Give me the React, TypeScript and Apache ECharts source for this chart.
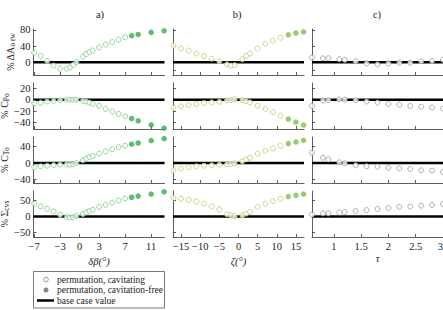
import { useEffect, useRef } from "react";
import * as echarts from "echarts";

// Column a: blade angle offset δβ (°)
const beta = [-7, -6, -5, -4, -3, -2, -1.5, -1, -0.5, 0.5, 1, 1.5, 2, 3, 4, 5, 6, 7, 8, 9, 11, 13];
const betaFreeFrom = 18; // points from this index on are cavitation-free
const dArwBeta = [24, 16, 3, -8, -16, -15, -12.5, -6, 0.5, 14, 20.5, 25, 29, 37, 44, 50, 56, 62, 66, 69, 74, 78];
const cpBeta = [-6, -5, -3, -2, -1, 0, 0, 0, 0, -2, -3, -5, -7, -10.5, -16, -20.5, -25, -29, -33, -37, -44, -50];
const ctBeta = [-11, -8, -6.5, -5, -3.5, -3.5, -4, -2.5, 0, 6.5, 10.5, 14.5, 17, 23, 28.5, 33.5, 39, 42.5, 46, 49, 55, 60];
const sigmaBeta = [40, 32, 24, 16, 5, -2, -3, -2, 2, 7.5, 12.5, 17, 21, 30, 36, 43.5, 50, 56, 60, 63.5, 70, 77];

// Column b: skew angle ζ (°)
const zeta = [-17, -15, -13, -11, -9, -7, -5, -3, -2, -1, 1, 2, 3, 5, 7, 9, 11, 13, 15, 17];
const zetaFreeFrom = 17;
const dArwZeta = [41, 34.5, 29, 22, 15.5, 9, 2.5, -5, -8, -7, 7.5, 16, 22, 34, 46, 53.5, 61, 68, 72.5, 75.5];
const cpZeta = [-14.5, -11.7, -9.4, -7.6, -5.8, -4.7, -3.5, -1.2, -0.6, 0.6, -0.6, -2.3, -4.7, -10.5, -16.4, -22, -28, -34, -39.5, -44.5];
const ctZeta = [-18, -14, -10.5, -8, -6.5, -5.5, -4, -3, -2.4, -0.8, 4, 9, 13, 23, 30, 36, 42.5, 47.5, 51.5, 55.5];
const sigmaZeta = [58, 55, 52, 47, 40, 32, 22, 7, 4, 1, 3, 9, 14, 30, 40, 48, 55, 62, 66, 70];

// Column c: τ
const tau = [0.6, 0.8, 0.9, 1.1, 1.2, 1.4, 1.6, 1.8, 2.0, 2.2, 2.4, 2.6, 2.8, 3.0];
const tauFreeFrom = tau.length;
const dArwTau = [12, 10, 10, 7.5, 6, 2.5, -2.5, -5, -2.5, -1, -1, 2.5, 3, 6];
const cpTau = [-11, -1.5, -1, 0.5, 0, -1, -3, -5, -7.3, -9, -11, -12.3, -13.8, -15.5];
const ctTau = [25, 13, 9, 1.7, -0.8, -5.6, -8, -9, -11.3, -13, -14.6, -18, -18.6, -22];
const sigmaTau = [6, 10, 10, 12.5, 14, 17, 20, 23.5, 26.5, 30, 31.5, 34, 36, 39];

// Axis ticks
const betaTicks = [-7, -3, 0, 3, 7, 11];
const zetaTicks = [-15, -10, -5, 0, 5, 10, 15];
const tauTicks = [1, 1.5, 2, 2.5, 3];
const rowTicks = [
  [-20, 0, 40, 80],
  [-40, -20, 0, 20],
  [-40, 0, 40],
  [-50, 0, 50],
];
const rowRanges = [
  [-31.4, 82.4],
  [-51.4, 29.3],
  [-49, 63.7],
  [-63.5, 79.4],
];
const rowNames = [
  "{m|% ΔA}{s|o rw}",
  "{m|% C}{s|Po}",
  "{m|% C}{s|To}",
  "{m|% Σ}{s|cvs}",
];
const panelTitles = ["a)", "b)", "c)"];
const xNames = ["δβ(°)", "ζ(°)", "τ"];
const legendLabels = ["permutation, cavitating", "permutation, cavitation-free", "base case value"];

const FONT = "Liberation Serif";

const columns = [
  {
    x: beta, freeFrom: betaFreeFrom, rows: [dArwBeta, cpBeta, ctBeta, sigmaBeta],
    range: [-7.1, 13.05], ticks: betaTicks, left: 33.5, width: 131,
    open: "#78cc84", fill: "#34ad4e", nameGap: 19, alignMax: undefined as any,
  },
  {
    x: zeta, freeFrom: zetaFreeFrom, rows: [dArwZeta, cpZeta, ctZeta, sigmaZeta],
    range: [-17.1, 17.1], ticks: zetaTicks, left: 173, width: 131,
    open: "#c3c86c", fill: "#7ec043", nameGap: 19, alignMax: undefined as any,
  },
  {
    x: tau, freeFrom: tauFreeFrom, rows: [dArwTau, cpTau, ctTau, sigmaTau],
    range: [0.6, 3.0], ticks: tauTicks, left: 312, width: 131,
    open: "#9999a6", fill: "#777784", nameGap: 13, alignMax: "right",
  },
];
const rowTops = [29, 83, 137, 191];
const rowHeight = 46;

const fmt = (v: number) => (v < 0 ? "\u2212" + Math.abs(v) : String(v));

function buildOption() {
  const grid: any[] = [];
  const xAxis: any[] = [];
  const yAxis: any[] = [];
  const series: any[] = [];
  const axisLine = { show: true, onZero: false, lineStyle: { color: "#333", width: 0.8 } };
  const tickLine = { color: "#333", width: 0.8 };

  rowTops.forEach((top, r) => {
    columns.forEach((col, c) => {
      const i = grid.length;
      grid.push({ left: col.left, top, width: col.width, height: rowHeight, outerBoundsMode: "none" });
      xAxis.push({
        gridIndex: i, type: "value", min: col.range[0], max: col.range[1], position: "bottom",
        axisLine, splitLine: { show: false },
        axisTick: { show: true, inside: true, length: 3, customValues: col.ticks, lineStyle: tickLine },
        axisLabel: {
          show: r === 3, customValues: col.ticks, formatter: fmt, margin: 4,
          fontFamily: FONT, fontSize: 10.5, color: "#222", alignMaxLabel: col.alignMax,
        },
        name: r === 3 ? xNames[c] : "", nameLocation: "middle", nameGap: col.nameGap,
        nameTextStyle: { fontFamily: FONT, fontSize: 10.5, color: "#222", fontStyle: "italic" },
      });
      yAxis.push({
        gridIndex: i, type: "value", min: rowRanges[r][0], max: rowRanges[r][1], position: "left",
        axisLine, splitLine: { show: false },
        axisTick: { show: true, inside: true, length: 3, customValues: rowTicks[r], lineStyle: tickLine },
        axisLabel: {
          show: c === 0, customValues: rowTicks[r], formatter: fmt, margin: 3,
          fontFamily: FONT, fontSize: 10.5, color: "#222",
        },
        name: c === 0 ? rowNames[r] : "", nameLocation: "middle", nameRotate: 90, nameGap: 16,
        nameTextStyle: {
          fontFamily: FONT, color: "#222",
          rich: {
            m: { fontFamily: FONT, fontSize: 10, color: "#222" },
            s: { fontFamily: FONT, fontSize: 7.5, color: "#222", padding: [4, 0, 0, 0] },
          },
        },
      });
      // base case reference line at 0 %
      series.push({
        type: "line", xAxisIndex: i, yAxisIndex: i, silent: true, z: 1,
        data: [[col.range[0], 0], [col.range[1], 0]],
        symbol: "none", lineStyle: { color: "#000", width: 2.5 },
      });
      const vals = col.rows[r];
      series.push({
        type: "scatter", xAxisIndex: i, yAxisIndex: i, z: 3, clip: false, silent: true,
        symbol: "circle", symbolSize: 5,
        itemStyle: { color: "#fff", borderColor: col.open, borderWidth: 1 },
        data: col.x.slice(0, col.freeFrom).map((v, k) => [v, vals[k]]),
      });
      if (col.freeFrom < col.x.length) {
        series.push({
          type: "scatter", xAxisIndex: i, yAxisIndex: i, z: 3, clip: false, silent: true,
          symbol: "circle", symbolSize: 5.5,
          itemStyle: { color: col.fill },
          data: col.x.slice(col.freeFrom).map((v, k) => [v, vals[col.freeFrom + k]]),
        });
      }
    });
  });

  const titleX = [100, 237, 377];
  const graphic: any[] = panelTitles.map((t, k) => ({
    type: "text", x: titleX[k], y: 14,
    style: { text: t, align: "center", verticalAlign: "middle", font: `10.5px '${FONT}'`, fill: "#222" },
  }));

  // legend box
  const legendText = (t: string, y: number) => ({
    type: "text", x: 57, y,
    style: { text: t, align: "left", verticalAlign: "middle", font: `9.5px '${FONT}'`, fill: "#222" },
  });
  graphic.push(
    { type: "rect", shape: { x: 33.5, y: 271.5, width: 131, height: 36.5 }, style: { fill: "none", stroke: "#555", lineWidth: 0.8 } },
    { type: "circle", shape: { cx: 46, cy: 279.5, r: 2.3 }, style: { fill: "#fff", stroke: "#888", lineWidth: 0.9 } },
    legendText(legendLabels[0], 279.5),
    { type: "circle", shape: { cx: 46, cy: 290, r: 2.5 }, style: { fill: "#888" } },
    legendText(legendLabels[1], 290),
    { type: "line", shape: { x1: 37, y1: 300.5, x2: 54, y2: 300.5 }, style: { stroke: "#000", lineWidth: 2.5 } },
    legendText(legendLabels[2], 300.5),
  );

  return { animation: false, backgroundColor: "#fff", grid, xAxis, yAxis, series, graphic };
}

export default function App() {
  const ref = useRef<HTMLDivElement>(null);
  useEffect(() => {
    if (!ref.current) return;
    const chart = echarts.init(ref.current, null, { renderer: "svg" });
    chart.setOption(buildOption() as any);
    return () => chart.dispose();
  }, []);
  return <div ref={ref} style={{ position: "absolute", left: 0, top: 0, width: 443, height: 310 }} />;
}
